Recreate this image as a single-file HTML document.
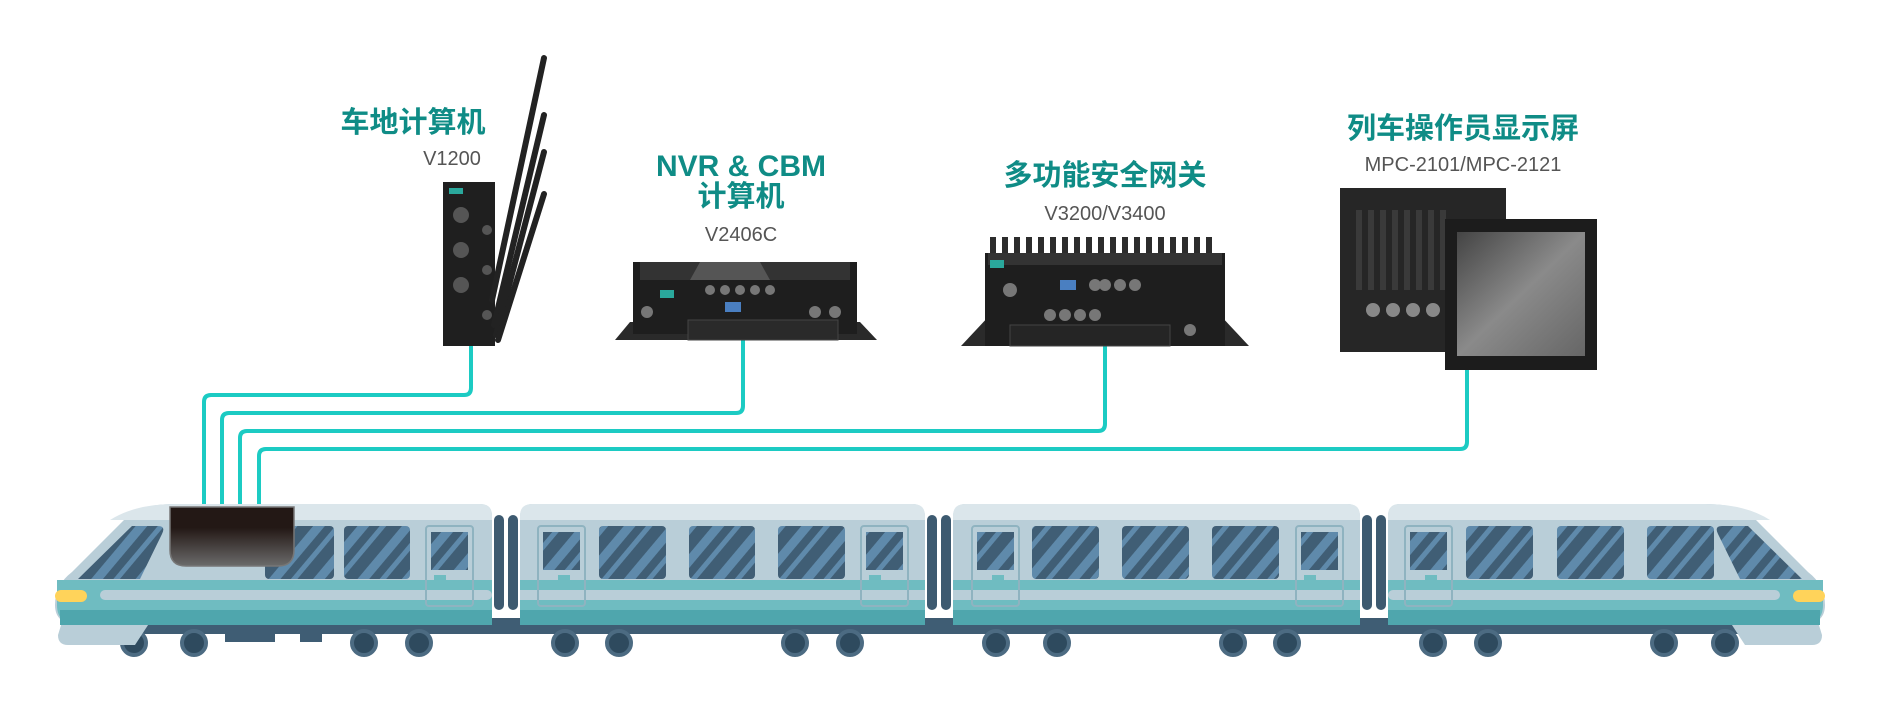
<!DOCTYPE html>
<html><head><meta charset="utf-8"><style>
html,body{margin:0;padding:0;background:#fff;}
svg{display:block}
.t{font-family:"Liberation Sans","Noto Sans CJK SC",sans-serif;font-weight:bold;fill:#0f8c86;text-anchor:middle;font-size:29px}
.s{font-family:"Liberation Sans","Noto Sans CJK SC",sans-serif;fill:#555;text-anchor:middle;font-size:20px}
</style></head><body>
<svg width="1880" height="720" viewBox="0 0 1880 720" xmlns="http://www.w3.org/2000/svg">
<defs>
<pattern id="st" width="34" height="34" patternUnits="userSpaceOnUse" patternTransform="rotate(40)">
<rect width="34" height="34" fill="#405e75"/><rect width="9" height="34" fill="#5f8aab"/><rect x="17" width="5" height="34" fill="#5f8aab"/></pattern>
<linearGradient id="bx" x1="0" y1="0" x2="0" y2="1"><stop offset="0.35" stop-color="#231815"/><stop offset="1" stop-color="#6b6b6b"/></linearGradient>
<linearGradient id="scr" x1="0" y1="0" x2="1" y2="1"><stop offset="0" stop-color="#444"/><stop offset="0.5" stop-color="#8a8a8a"/><stop offset="1" stop-color="#666"/></linearGradient>
</defs>

<text class="t" x="413" y="132">车地计算机</text>
<text class="s" x="452" y="165">V1200</text>
<text class="t" x="741" y="176" style="font-size:30px">NVR &amp; CBM</text>
<text class="t" x="741" y="206">计算机</text>
<text class="s" x="741" y="241">V2406C</text>
<text class="t" x="1105" y="185">多功能安全网关</text>
<text class="s" x="1105" y="220">V3200/V3400</text>
<text class="t" x="1463" y="138">列车操作员显示屏</text>
<text class="s" x="1463" y="171">MPC-2101/MPC-2121</text>

<g fill="none" stroke="#1ccbc3" stroke-width="4">
<path d="M471 346 V388 Q471 395 464 395 H211 Q204 395 204 402 V506"/>
<path d="M743 340 V406 Q743 413 736 413 H229 Q222 413 222 420 V506"/>
<path d="M1105 346 V424 Q1105 431 1098 431 H247 Q240 431 240 438 V506"/>
<path d="M1467 364 V442 Q1467 449 1460 449 H266 Q259 449 259 456 V506"/>
</g>

<!-- V1200 -->
<rect x="443" y="182" width="52" height="164" fill="#1f1f1f"/>
<g stroke="#222" stroke-width="6" stroke-linecap="round">
<line x1="492" y1="300" x2="544" y2="58"/>
<line x1="494" y1="325" x2="544" y2="115"/>
<line x1="496" y1="335" x2="544" y2="152"/>
<line x1="498" y1="340" x2="544" y2="194"/>
</g>
<g fill="#555"><circle cx="461" cy="215" r="8"/><circle cx="461" cy="250" r="8"/><circle cx="461" cy="285" r="8"/><circle cx="487" cy="230" r="5"/><circle cx="487" cy="270" r="5"/><circle cx="487" cy="315" r="5"/></g>
<rect x="449" y="188" width="14" height="6" fill="#2aa89c"/>

<!-- V2406C -->
<polygon points="615,340 630,322 860,322 877,340" fill="#2a2a2a"/>
<rect x="633" y="262" width="224" height="72" fill="#1e1e1e"/>
<rect x="640" y="262" width="210" height="18" fill="#333"/>
<polygon points="700,262 760,262 770,280 690,280" fill="#555"/>
<g fill="#777"><circle cx="710" cy="290" r="5"/><circle cx="725" cy="290" r="5"/><circle cx="740" cy="290" r="5"/><circle cx="755" cy="290" r="5"/><circle cx="770" cy="290" r="5"/><circle cx="647" cy="312" r="6"/><circle cx="815" cy="312" r="6"/><circle cx="835" cy="312" r="6"/></g>
<rect x="725" y="302" width="16" height="10" fill="#4a7fc1"/>
<rect x="660" y="290" width="14" height="8" fill="#2aa89c"/>
<rect x="688" y="320" width="150" height="20" fill="#2a2a2a" stroke="#444"/>

<!-- V3200 -->
<polygon points="961,346 990,315 1220,315 1249,346" fill="#2a2a2a"/>
<rect x="985" y="253" width="240" height="93" fill="#1e1e1e"/>
<g fill="#2c2c2c">
<rect x="990" y="237" width="6" height="18"/><rect x="1002" y="237" width="6" height="18"/><rect x="1014" y="237" width="6" height="18"/><rect x="1026" y="237" width="6" height="18"/><rect x="1038" y="237" width="6" height="18"/><rect x="1050" y="237" width="6" height="18"/><rect x="1062" y="237" width="6" height="18"/><rect x="1074" y="237" width="6" height="18"/><rect x="1086" y="237" width="6" height="18"/><rect x="1098" y="237" width="6" height="18"/><rect x="1110" y="237" width="6" height="18"/><rect x="1122" y="237" width="6" height="18"/><rect x="1134" y="237" width="6" height="18"/><rect x="1146" y="237" width="6" height="18"/><rect x="1158" y="237" width="6" height="18"/><rect x="1170" y="237" width="6" height="18"/><rect x="1182" y="237" width="6" height="18"/><rect x="1194" y="237" width="6" height="18"/><rect x="1206" y="237" width="6" height="18"/></g>
<rect x="988" y="253" width="234" height="12" fill="#333"/>
<g fill="#777"><circle cx="1010" cy="290" r="7"/><circle cx="1095" cy="285" r="6"/><circle cx="1105" cy="285" r="6"/><circle cx="1120" cy="285" r="6"/><circle cx="1135" cy="285" r="6"/><circle cx="1050" cy="315" r="6"/><circle cx="1065" cy="315" r="6"/><circle cx="1080" cy="315" r="6"/><circle cx="1095" cy="315" r="6"/><circle cx="1190" cy="330" r="6"/></g>
<rect x="1060" y="280" width="16" height="10" fill="#4a7fc1"/>
<rect x="990" y="260" width="14" height="8" fill="#2aa89c"/>
<rect x="1010" y="325" width="160" height="21" fill="#252525" stroke="#444"/>

<!-- MPC -->
<rect x="1340" y="188" width="166" height="164" fill="#262626"/>
<g fill="#3a3a3a"><rect x="1356" y="210" width="6" height="80"/><rect x="1368" y="210" width="6" height="80"/><rect x="1380" y="210" width="6" height="80"/><rect x="1392" y="210" width="6" height="80"/><rect x="1404" y="210" width="6" height="80"/><rect x="1416" y="210" width="6" height="80"/><rect x="1428" y="210" width="6" height="80"/><rect x="1440" y="210" width="6" height="80"/></g>
<g fill="#888"><circle cx="1373" cy="310" r="7"/><circle cx="1393" cy="310" r="7"/><circle cx="1413" cy="310" r="7"/><circle cx="1433" cy="310" r="7"/></g>
<rect x="1445" y="219" width="152" height="151" fill="#1c1c1c"/>
<rect x="1457" y="232" width="128" height="124" fill="url(#scr)"/>

<!-- TRAIN -->
<g fill="#3d5a70"><rect x="494" y="515" width="10" height="95" rx="5"/><rect x="508" y="515" width="10" height="95" rx="5"/><rect x="927" y="515" width="10" height="95" rx="5"/><rect x="941" y="515" width="10" height="95" rx="5"/><rect x="1362" y="515" width="10" height="95" rx="5"/><rect x="1376" y="515" width="10" height="95" rx="5"/>
<rect x="480" y="618" width="930" height="12"/></g>
<g fill="#3f5d74"><rect x="120" y="620" width="1640" height="14"/><rect x="225" y="628" width="50" height="14"/><rect x="300" y="628" width="22" height="14"/></g>
<g fill="#2e4a5e" stroke="#4c6b82" stroke-width="4">
<circle cx="134" cy="643" r="12"/><circle cx="194" cy="643" r="12"/><circle cx="364" cy="643" r="12"/><circle cx="419" cy="643" r="12"/><circle cx="565" cy="643" r="12"/><circle cx="619" cy="643" r="12"/><circle cx="795" cy="643" r="12"/><circle cx="850" cy="643" r="12"/><circle cx="996" cy="643" r="12"/><circle cx="1057" cy="643" r="12"/><circle cx="1233" cy="643" r="12"/><circle cx="1287" cy="643" r="12"/><circle cx="1433" cy="643" r="12"/><circle cx="1488" cy="643" r="12"/><circle cx="1664" cy="643" r="12"/><circle cx="1725" cy="643" r="12"/></g>
<path d="M62 622 H150 L135 645 H68 Q58 645 58 635 Z" fill="#b9ced8"/>
<path d="M1818 622 H1730 L1745 645 H1812 Q1822 645 1822 635 Z" fill="#b9ced8"/>

<g>
<path d="M55 605 Q55 585 72 572 L128 516 Q142 504 175 504 H480 Q492 504 492 516 V613 Q492 625 480 625 H80 Q55 625 55 605 Z" fill="#b9ced8"/>
<rect x="520" y="504" width="405" height="121" rx="12" fill="#b9ced8"/>
<rect x="953" y="504" width="407" height="121" rx="12" fill="#b9ced8"/>
<path d="M1825 605 Q1825 585 1808 572 L1752 516 Q1738 504 1705 504 H1400 Q1388 504 1388 516 V613 Q1388 625 1400 625 H1800 Q1825 625 1825 605 Z" fill="#b9ced8"/>
</g>
<g fill="#dbe6eb"><path d="M110 520 Q135 504 175 504 H480 Q492 504 492 516 V520 Z"/><path d="M520 520 V516 Q520 504 532 504 H913 Q925 504 925 516 V520 Z"/><path d="M953 520 V516 Q953 504 965 504 H1348 Q1360 504 1360 516 V520 Z"/><path d="M1770 520 Q1745 504 1705 504 H1400 Q1388 504 1388 516 V520 Z"/></g>
<g fill="#6fbcc1">
<path d="M57 580 H492 V613 Q492 625 480 625 H80 Q57 625 57 605 Z"/>
<path d="M520 580 H925 V613 Q925 625 913 625 H532 Q520 625 520 613 Z"/>
<path d="M953 580 H1360 V613 Q1360 625 1348 625 H965 Q953 625 953 613 Z"/>
<path d="M1823 580 H1388 V613 Q1388 625 1400 625 H1800 Q1823 625 1823 605 Z"/>
</g>
<g fill="#4fa6ad"><rect x="60" y="610" width="432" height="15"/><rect x="520" y="610" width="405" height="15"/><rect x="953" y="610" width="407" height="15"/><rect x="1388" y="610" width="432" height="15"/></g>
<g fill="#b9ced8"><rect x="100" y="590" width="392" height="10" rx="5"/><rect x="520" y="590" width="405" height="10"/><rect x="953" y="590" width="407" height="10"/><rect x="1388" y="590" width="392" height="10" rx="5"/></g>
<g fill="#ffd35a"><rect x="55" y="590" width="32" height="12" rx="6"/><rect x="1793" y="590" width="32" height="12" rx="6"/></g>

<g fill="url(#st)">
<path d="M78 579 L132 526 H158 Q166 526 162 534 L140 579 Z"/>
<path d="M1802 579 L1748 526 H1722 Q1714 526 1718 534 L1740 579 Z"/>
<rect x="265" y="526" width="69" height="53" rx="4"/><rect x="344" y="526" width="66" height="53" rx="4"/>
<rect x="599" y="526" width="67" height="53" rx="4"/><rect x="689" y="526" width="66" height="53" rx="4"/><rect x="778" y="526" width="67" height="53" rx="4"/>
<rect x="1032" y="526" width="67" height="53" rx="4"/><rect x="1122" y="526" width="67" height="53" rx="4"/><rect x="1212" y="526" width="67" height="53" rx="4"/>
<rect x="1466" y="526" width="67" height="53" rx="4"/><rect x="1557" y="526" width="67" height="53" rx="4"/><rect x="1647" y="526" width="67" height="53" rx="4"/>
<rect x="431" y="532" width="37" height="38"/><rect x="543" y="532" width="37" height="38"/><rect x="866" y="532" width="37" height="38"/><rect x="977" y="532" width="37" height="38"/><rect x="1301" y="532" width="37" height="38"/><rect x="1410" y="532" width="37" height="38"/>
</g>
<g fill="none" stroke="#8fb3c0" stroke-width="2">
<rect x="426" y="526" width="47" height="80" rx="3"/><rect x="538" y="526" width="47" height="80" rx="3"/><rect x="861" y="526" width="47" height="80" rx="3"/><rect x="972" y="526" width="47" height="80" rx="3"/><rect x="1296" y="526" width="47" height="80" rx="3"/><rect x="1405" y="526" width="47" height="80" rx="3"/>
</g>
<g fill="#6fbcc1"><rect x="434" y="575" width="12" height="5"/><rect x="558" y="575" width="12" height="5"/><rect x="869" y="575" width="12" height="5"/><rect x="992" y="575" width="12" height="5"/><rect x="1304" y="575" width="12" height="5"/><rect x="1425" y="575" width="12" height="5"/></g>

<path d="M170 507 H294 V550 Q294 566 278 566 H186 Q170 566 170 550 Z" fill="url(#bx)" stroke="#777" stroke-width="1.5"/>
</svg>
</body></html>
